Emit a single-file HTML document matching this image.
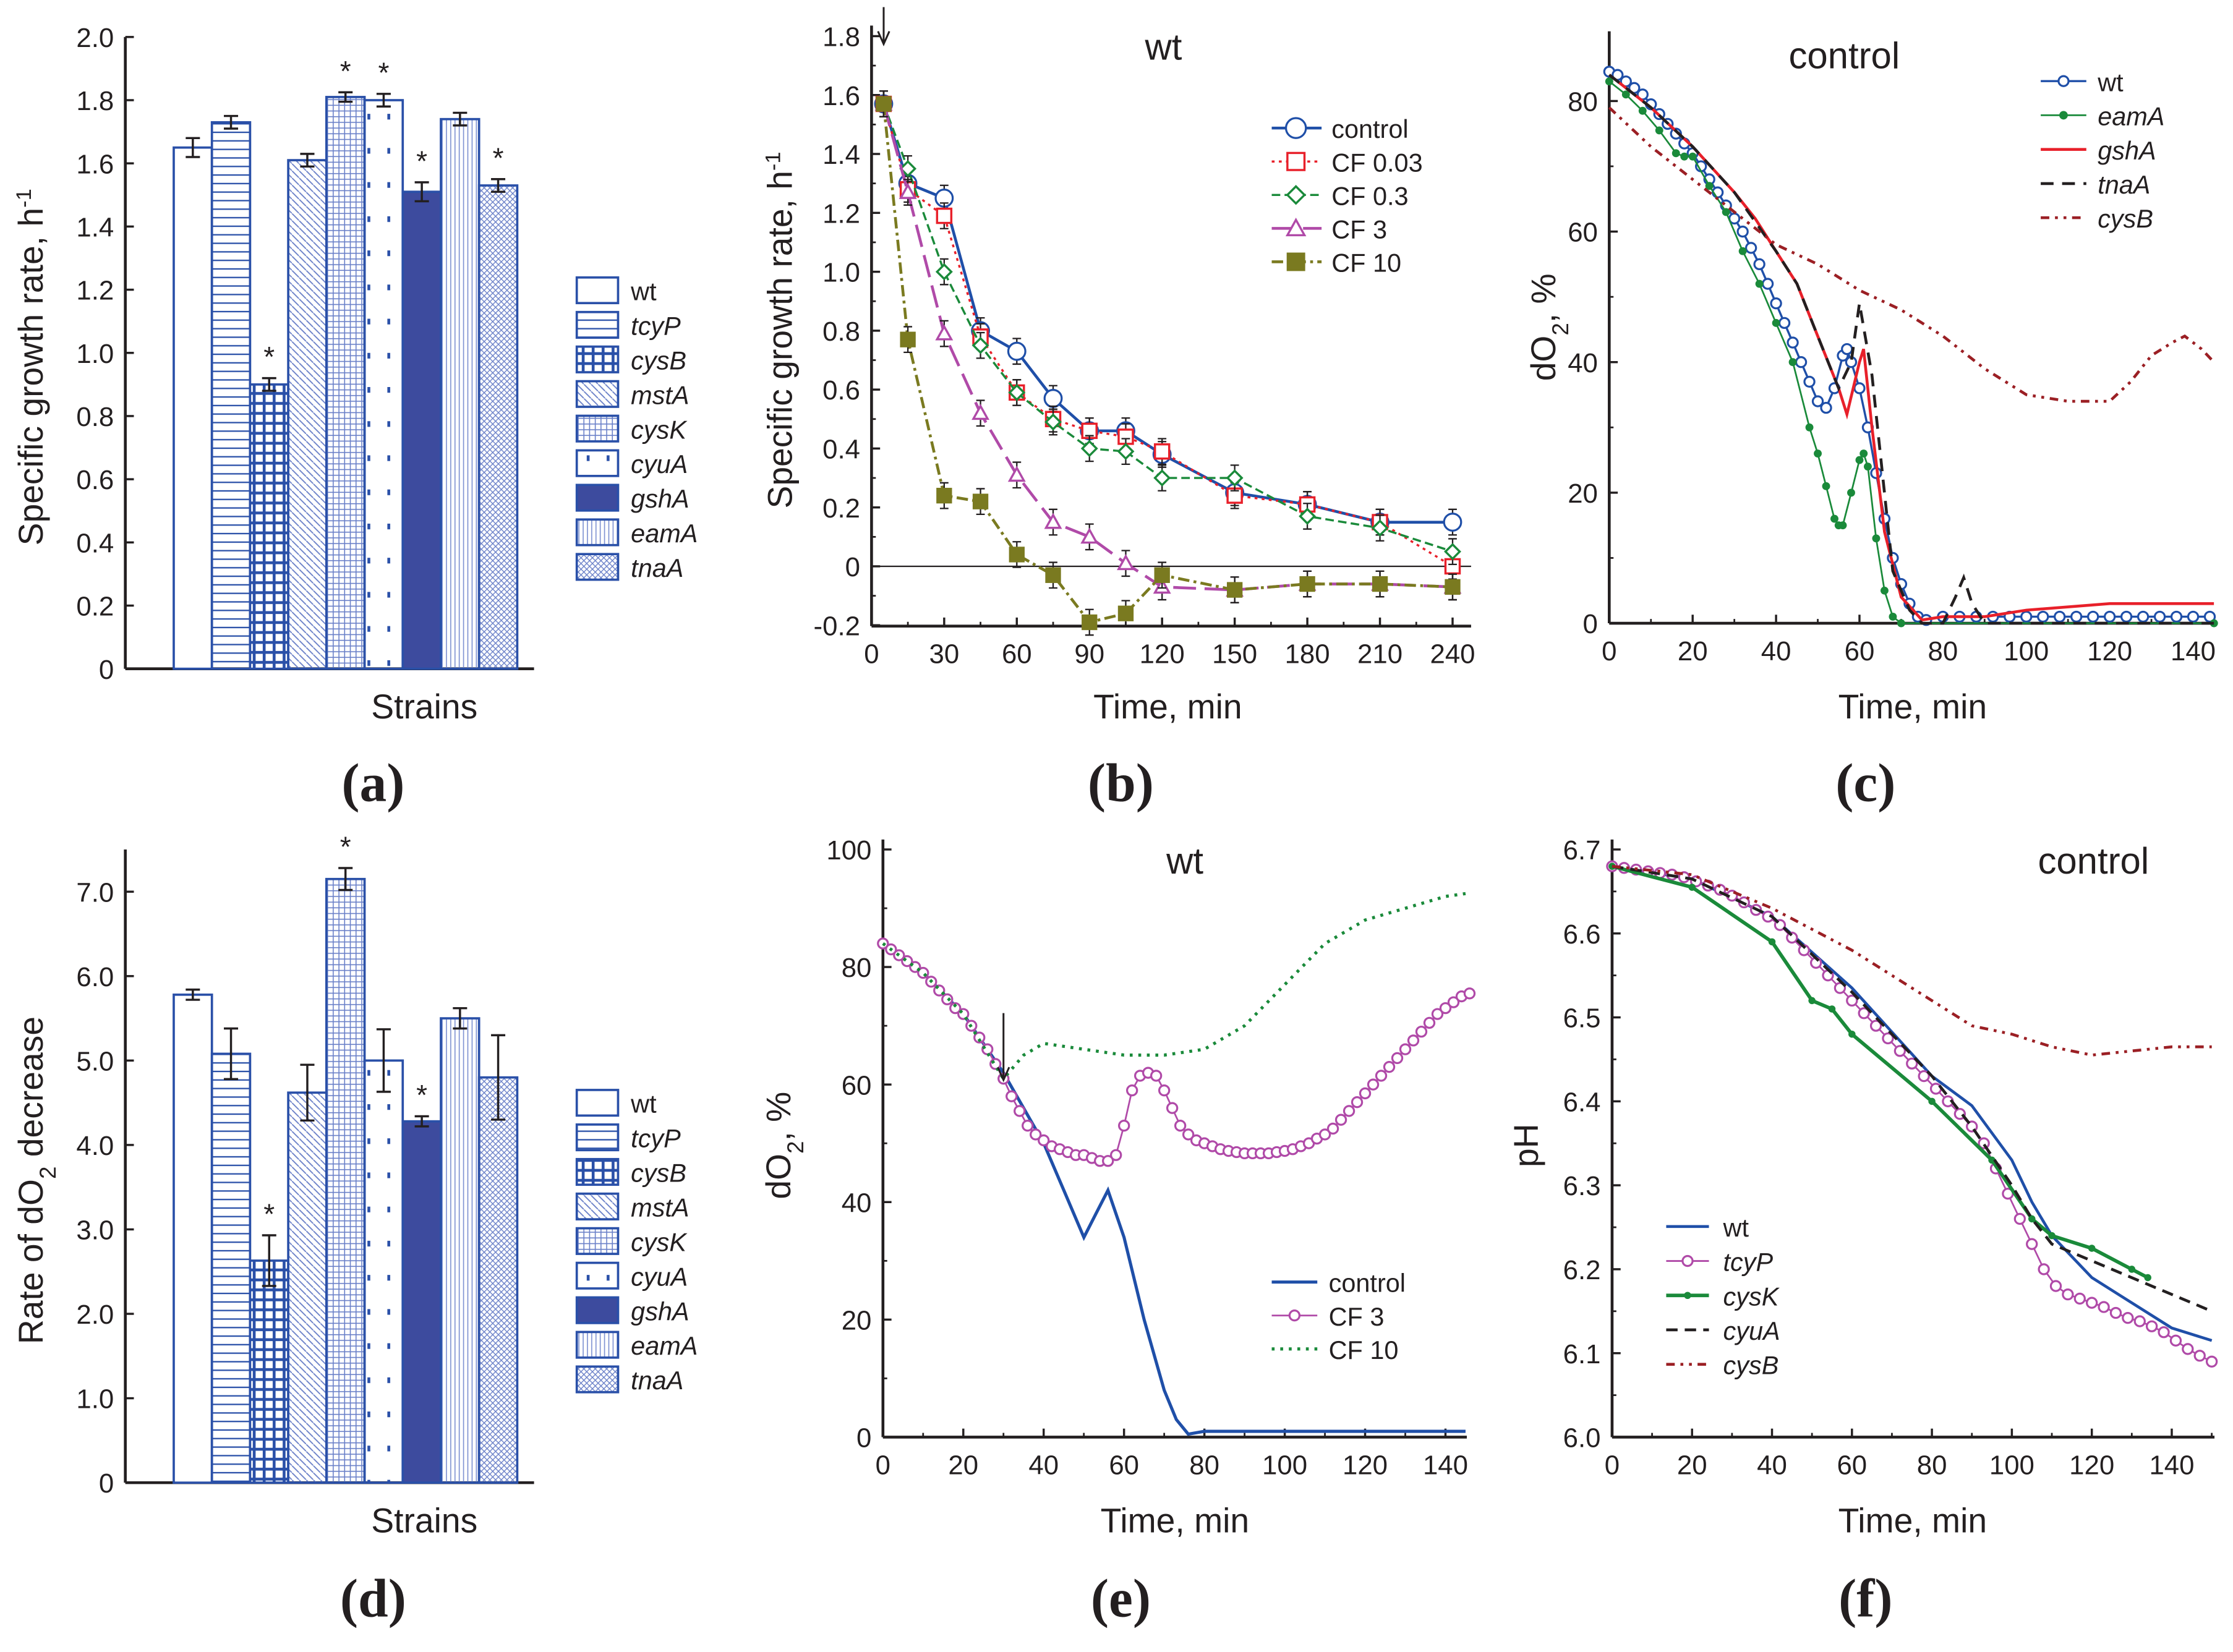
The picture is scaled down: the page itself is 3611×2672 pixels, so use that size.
<!DOCTYPE html>
<html><head><meta charset="utf-8"><style>
html,body{margin:0;padding:0;background:#fff}
svg{display:block}
text{fill:#231f20}
</style></head><body>
<svg id="fig" width="3611" height="2672" viewBox="0 0 1568 1161" preserveAspectRatio="none" xmlns="http://www.w3.org/2000/svg" style="font-family:'Liberation Sans',sans-serif">
<defs>
<pattern id="pH" width="6" height="6" patternUnits="userSpaceOnUse"><line x1="0" y1="3" x2="6" y2="3" stroke="#2a50a8" stroke-width="1"/></pattern>
<pattern id="pGrid" width="7" height="7" patternUnits="userSpaceOnUse"><rect width="7" height="7" fill="#fff"/><line x1="0" y1="3.5" x2="7" y2="3.5" stroke="#2a50a8" stroke-width="2"/><line x1="3.5" y1="0" x2="3.5" y2="7" stroke="#2a50a8" stroke-width="2"/></pattern>
<pattern id="pDiag" width="5" height="5" patternUnits="userSpaceOnUse"><line x1="0" y1="0" x2="5" y2="5" stroke="#6a80c8" stroke-width="0.8"/></pattern>
<pattern id="pFine" width="4" height="4" patternUnits="userSpaceOnUse"><line x1="0" y1="2" x2="4" y2="2" stroke="#6a80c8" stroke-width="0.7"/><line x1="2" y1="0" x2="2" y2="4" stroke="#6a80c8" stroke-width="0.7"/></pattern>
<pattern id="pDots" width="14" height="24" patternUnits="userSpaceOnUse"><rect x="6" y="8" width="2" height="4" fill="#2a50a8"/></pattern>
<pattern id="pV" width="3" height="3" patternUnits="userSpaceOnUse"><line x1="1.5" y1="0" x2="1.5" y2="3" stroke="#7a8ed0" stroke-width="0.7"/></pattern>
<pattern id="pX" width="4" height="4" patternUnits="userSpaceOnUse"><path d="M0 0L4 4M4 0L0 4" stroke="#6a80c8" stroke-width="0.6"/></pattern>
</defs>
</svg>
<script>
// ---------- data ----------
const strains = ["wt","tcyP","cysB","mstA","cysK","cyuA","gshA","eamA","tnaA"];
const fills = ["#fff","url(#pH)","url(#pGrid)","url(#pDiag)","url(#pFine)","url(#pDots)","#3d4b9e","url(#pV)","url(#pX)"];
const growthVals = [1.65,1.73,0.90,1.61,1.81,1.80,1.51,1.74,1.53];
const growthErr = [0.03,0.02,0.02,0.02,0.015,0.02,0.03,0.02,0.02];
const growthStar = [0,0,1,0,1,1,1,0,1];
const rateVals = [5.78,5.08,2.63,4.62,7.15,5.0,4.28,5.5,4.8];
const rateErr = [0.06,0.3,0.3,0.33,0.13,0.37,0.06,0.12,0.5];
const rateStar = [0,0,1,0,1,0,1,0,0];

const bTimes = [5,15,30,45,60,75,90,105,120,150,180,210,240];
const bControl = [1.57,1.30,1.25,0.80,0.73,0.57,0.46,0.46,0.38,0.25,0.21,0.15,0.15];
const bCF003 = [1.57,1.28,1.19,0.78,0.59,0.50,0.46,0.44,0.39,0.24,0.21,0.15,0.0];
const bCF03 = [1.57,1.35,1.0,0.75,0.59,0.49,0.40,0.39,0.30,0.30,0.17,0.13,0.05];
const bCF3 = [1.57,1.27,0.79,0.52,0.31,0.15,0.10,0.01,-0.07,-0.08,-0.06,-0.06,-0.07];
const bCF10 = [1.57,0.77,0.24,0.22,0.04,-0.03,-0.19,-0.16,-0.03,-0.08,-0.06,-0.06,-0.07];

const cWtT = [0,2,4,6,8,10,12,14,16,18,20,22,24,26,28,30,32,34,36,38,40,42,44,46,48,50,52,54,56,57,58,60,62,64,66,68,70,72,74,76,80,84,88,92,96,100,104,108,112,116,120,124,128,132,136,140,144];
const cWtV = [84.5,84,83,82,81,79.5,78,76.5,75,73.5,72,70,68,66,64,62,60,57.5,55,52,49,46,43,40,37,34,33,36,41,42,40,36,30,23,16,10,6,3,1,0.5,1,1,1,1,1,1,1,1,1,1,1,1,1,1,1,1,1];
const cEamT = [0,4,8,12,16,18,20,24,28,32,36,40,44,48,50,52,54,55,56,58,60,61,62,64,66,68,70,145];
const cEamV = [83,81,78.5,75.5,72,71.5,71.5,67,63,57,52,46,40,30,26,21,16,15,15,20,25,26,24,13,5,1,0,0];
const cGshT = [0,10,20,30,35,40,45,50,55,57,60,61,63,66,70,75,80,90,100,120,140,145];
const cGshV = [84,79,73,66,62,57,52,44,36,32,40,42,30,14,4,0.5,1,1,2,3,3,3];
const cTnaT = [0,10,20,30,40,45,50,55,58,60,63,68,72,75,80,83,85,87,90,145];
const cTnaV = [84,79,73,66,57,52,44,36,40,49,38,8,2,0,0,4,7,3,0,0];
const cCysT = [0,10,20,30,40,50,60,70,80,90,100,110,120,125,130,135,138,142,145];
const cCysV = [79,73,68,63,58,55,51,48,44,39,35,34,34,37,41,43,44,42,40];

const eCtlT = [0,10,20,30,40,45,50,53,56,60,65,70,73,76,80,100,120,145];
const eCtlV = [84,79,72,62,50,42,34,38,42,34,20,8,3,0.5,1,1,1,1];
const eCF3T = [0,2,4,6,8,10,12,14,16,18,20,22,24,26,28,30,32,34,36,38,40,42,44,46,48,50,52,54,56,58,60,62,64,66,68,70,72,74,76,78,80,82,84,86,88,90,92,94,96,98,100,102,104,106,108,110,112,114,116,118,120,122,124,126,128,130,132,134,136,138,140,142,144,146];
const eCF3V = [84,83,82,81,80,79,77.5,76,74.5,73,72,70,68,66,63.5,61,58,55.5,53,51.5,50.5,49.5,49,48.5,48,48,47.5,47,47,48,53,59,61.5,62,61.5,59,56,53,51.5,50.5,50,49.5,49,48.7,48.5,48.3,48.3,48.3,48.3,48.5,48.7,49,49.5,50,50.8,51.5,52.5,54,55.5,57,58.5,60,61.5,63,64.5,66,67.5,69,70.5,72,73,74,75,75.5];
const eCF10T = [0,10,20,30,35,40,50,60,70,80,90,100,110,120,130,140,145];
const eCF10V = [84,79,72,61,65,67,66,65,65,66,70,77,84,88,90,92,92.5];

const fWtT = [0,20,40,60,80,90,100,105,110,120,130,140,150];
const fWtV = [6.68,6.665,6.62,6.535,6.43,6.395,6.33,6.28,6.24,6.19,6.16,6.13,6.115];
const fTcyT = [0,3,6,9,12,15,18,21,24,27,30,33,36,39,42,45,48,51,54,57,60,63,66,69,72,75,78,81,84,87,90,93,96,99,102,105,108,111,114,117,120,123,126,129,132,135,138,141,144,147,150];
const fTcyV = [6.68,6.678,6.676,6.674,6.672,6.67,6.667,6.662,6.657,6.652,6.645,6.637,6.628,6.62,6.61,6.595,6.58,6.565,6.55,6.535,6.52,6.505,6.49,6.475,6.46,6.445,6.43,6.415,6.40,6.385,6.37,6.35,6.32,6.29,6.26,6.23,6.20,6.18,6.17,6.165,6.16,6.155,6.148,6.142,6.138,6.132,6.125,6.115,6.105,6.097,6.09];
const fCysKT = [0,20,40,50,55,60,80,95,105,110,120,130,134];
const fCysKV = [6.68,6.655,6.59,6.52,6.51,6.48,6.40,6.33,6.26,6.24,6.225,6.20,6.19];
const fCyuT = [0,20,40,60,80,90,100,105,110,120,130,140,150];
const fCyuV = [6.68,6.665,6.62,6.53,6.43,6.37,6.30,6.26,6.23,6.21,6.19,6.17,6.15];
const fCysBT = [0,20,40,60,80,90,100,110,120,130,140,150];
const fCysBV = [6.68,6.67,6.63,6.58,6.52,6.49,6.48,6.465,6.455,6.46,6.465,6.465];

// ---------- helpers ----------
const NS="http://www.w3.org/2000/svg";
const svg=document.getElementById('fig');
function mk(tag,attrs,parent){const e=document.createElementNS(NS,tag);for(const k in attrs)e.setAttribute(k,attrs[k]);(parent||svg).appendChild(e);return e;}
function txt(s,x,y,size,extra,parent){const t=mk('text',Object.assign({x:x,y:y,'font-size':size,'text-anchor':'middle'},extra||{}),parent);t.textContent=s;return t;}
function lin(d0,d1,r0,r1){return v=>r0+(v-d0)*(r1-r0)/(d1-d0);}

function axes(g,x0,x1,yTop,yBot,xs,ys,xticks,yticks,xminor,yminor,ylabFmt){
  let a=mk('path',{d:`M${x0} ${yTop}V${yBot}`,stroke:'#231f20','stroke-width':2,fill:'none'},g);
  
  a=mk('path',{d:`M${x0} ${yBot}H${x1}`,stroke:'#231f20','stroke-width':2,fill:'none'},g);
  
  if(xticks)xticks.forEach(v=>{const x=xs(v);mk('line',{x1:x,x2:x,y1:yBot,y2:yBot-6,stroke:'#231f20','stroke-width':1.5},g);
    const t=txt(String(v),x,yBot+26,19,{},g);});
  if(xminor)xminor.forEach(v=>{const x=xs(v);mk('line',{x1:x,x2:x,y1:yBot,y2:yBot-3,stroke:'#231f20','stroke-width':1.2},g);});
  yticks.forEach(v=>{const y=ys(v);mk('line',{x1:x0,x2:x0+6,y1:y,y2:y,stroke:'#231f20','stroke-width':1.5},g);
    const t=txt(ylabFmt?ylabFmt(v):String(v),x0-8,y+7,19,{'text-anchor':'end'},g);});
  if(yminor)yminor.forEach(v=>{const y=ys(v);mk('line',{x1:x0,x2:x0+3,y1:y,y2:y,stroke:'#231f20','stroke-width':1.2},g);});
}
function path(g,xs,ys,T,V,style){const d=T.map((t,i)=>(i?'L':'M')+xs(t).toFixed(1)+' '+ys(V[i]).toFixed(1)).join('');return mk('path',Object.assign({d:d,fill:'none'},style),g);}
function marker(g,type,x,y,col,s){
  s=s||7;
  if(type==='circle')return mk('circle',{cx:x,cy:y,r:s,fill:'#fff',stroke:col,'stroke-width':1.4},g);
  if(type==='dot')return mk('circle',{cx:x,cy:y,r:s,fill:col},g);
  if(type==='square')return mk('rect',{x:x-s,y:y-s,width:2*s,height:2*s,fill:'#fff',stroke:col,'stroke-width':1.5},g);
  if(type==='fsquare')return mk('rect',{x:x-s,y:y-s,width:2*s,height:2*s,fill:col,stroke:col},g);
  if(type==='diamond')return mk('path',{d:`M${x} ${y-s}L${x+s} ${y}L${x} ${y+s}L${x-s} ${y}Z`,fill:'#fff',stroke:col,'stroke-width':1.5},g);
  if(type==='tri')return mk('path',{d:`M${x} ${y-s}L${x+s} ${y+s*0.8}L${x-s} ${y+s*0.8}Z`,fill:'#fff',stroke:col,'stroke-width':1.5},g);
}
function group(name){const g=mk('g',{});return g;}
function panelLabel(s,x,y){const t=txt(s,x,y,38,{style:"font-family:'Liberation Serif',serif;font-weight:bold"});}
function ylabel(g,s,x,y){const t=mk('text',{x:0,y:0,'font-size':24,'text-anchor':'middle',transform:`translate(${x},${y}) rotate(-90)`},g);t.innerHTML=s;}
function xlabel(g,s,x,y){const t=txt(s,x,y,24,{},g);}

// ---------- bar panels ----------
function barPanel(name,vals,errs,stars,yBot,yTop,vmax,yticks,fmt,legY0,ttl,titleY,lab){
  const g=group(name);
  const ys=lin(0,vmax,yBot,yTop);
  axes(g,88,375,yTop,yBot,null,ys,null,yticks,null,null,fmt);
  vals.forEach((v,i)=>{const x=122+i*26.8;
    const r=mk('rect',{x:x,y:ys(v),width:26.8,height:yBot-ys(v),fill:fills[i],stroke:'#2a50a8','stroke-width':1.6},g);
    
    const cx=x+13.4,e1=ys(v+errs[i]),e2=ys(v-errs[i]);
    const eb=mk('path',{d:`M${cx} ${e1}V${e2}M${cx-5} ${e1}H${cx+5}M${cx-5} ${e2}H${cx+5}`,stroke:'#231f20','stroke-width':1.5},g);
    
    if(stars[i]){const s=txt('*',cx,e1-8,20,{},g);}
  });
  strains.forEach((s,i)=>{const y=legY0+i*24.3;
    const r=mk('rect',{x:405,y:y-9,width:29,height:18,fill:fills[i],stroke:'#2a50a8','stroke-width':1.6},g);
    
    const t=txt(s,443,y+7,18,{'text-anchor':'start','font-style':i?'italic':'normal'},g);});
  xlabel(g,'Strains',298,titleY);
  ylabel(g,ttl,30,(yTop+yBot)/2+10);
  panelLabel(lab,262,lab==='(a)'?563:1136);
}
barPanel('panel-a',growthVals,growthErr,growthStar,470,26,2.0,[0,0.2,0.4,0.6,0.8,1,1.2,1.4,1.6,1.8,2],v=>v===0?'0':v.toFixed(1),204,'Specific growth rate, h<tspan baseline-shift="super" font-size="15">-1</tspan>',505,'(a)');
barPanel('panel-d',rateVals,rateErr,rateStar,1042,597,7.5,[0,1,2,3,4,5,6,7],v=>v===0?'0':v.toFixed(1),775,'Rate of dO<tspan baseline-shift="sub" font-size="16">2</tspan> decrease',1077,'(d)');

// ---------- panel b ----------
(function(){
  const g=group('panel-b');
  const xs=lin(0,240,612,1020), ys=lin(0,0.2,398,356.6);
  axes(g,612,1033,18,440,xs,ys,[0,30,60,90,120,150,180,210,240],[-0.2,0,0.2,0.4,0.6,0.8,1,1.2,1.4,1.6,1.8],[15,45,75,105,135,165,195,225],[-0.1,0.1,0.3,0.5,0.7,0.9,1.1,1.3,1.5,1.7],v=>v===0?'0':v.toFixed(1));
  mk('line',{x1:612,x2:1033,y1:ys(0),y2:ys(0),stroke:'#231f20','stroke-width':1},g);
  const S=[['control',bControl,'#1f4fa8','circle','none',2],['CF 0.03',bCF003,'#e8202a','square','2 3',1.5],['CF 0.3',bCF03,'#1a8a3a','diamond','6 3',1.5],['CF 3',bCF3,'#b04aa8','tri','16 6',2],['CF 10',bCF10,'#7a7a20','fsquare','8 3 2 3',2]];
  S.forEach((s,k)=>{const p=path(g,xs,ys,bTimes,s[1],{stroke:s[2],'stroke-width':s[5],'stroke-dasharray':s[4]});
    
    s[1].forEach((v,i)=>{const x=xs(bTimes[i]),y=ys(v);
      mk('path',{d:`M${x} ${y-9}V${y+9}M${x-3} ${y-9}H${x+3}M${x-3} ${y+9}H${x+3}`,stroke:'#231f20','stroke-width':1},g);
      const m=marker(g,s[3],x,y,s[2],k===0?6:5);});
    const ly=90+k*23.5;
    mk('line',{x1:893,x2:928,y1:ly,y2:ly,stroke:s[2],'stroke-width':s[5],'stroke-dasharray':s[4]},g);
    const lm=marker(g,s[3],910,ly,s[2],k===0?7:6);
    const t=txt(s[0],935,ly+7,18,{'text-anchor':'start'},g);});
  const ar=mk('path',{d:`M${xs(5)} 5V30M${xs(5)-4} 22L${xs(5)} 31L${xs(5)+4} 22`,stroke:'#231f20','stroke-width':1.3,fill:'none'},g);
  
  const tt=txt('wt',817,42,26,{},g);
  xlabel(g,'Time, min',820,505);
  ylabel(g,'Specific growth rate, h<tspan baseline-shift="super" font-size="15">-1</tspan>',556,232);
  panelLabel('(b)',787,563);
})();

// ---------- panel c ----------
(function(){
  const g=group('panel-c');
  const xs=lin(0,140,1130,1540), ys=lin(0,80,438,71);
  axes(g,1130,1555,22,438,xs,ys,[0,20,40,60,80,100,120,140],[0,20,40,60,80],[10,30,50,70,90,110,130],[10,30,50,70]);
  const S=[['wt',cWtT,cWtV,'#1f4fa8','circle','none',1.5],['eamA',cEamT,cEamV,'#1a8a3a','dot','none',1.2],['gshA',cGshT,cGshV,'#e8202a',null,'none',2],['tnaA',cTnaT,cTnaV,'#231f20',null,'9 6',2],['cysB',cCysT,cCysV,'#9b1f24',null,'6 4 2 4 2 4',2]];
  S.forEach((s,k)=>{const p=path(g,xs,ys,s[1],s[2],{stroke:s[3],'stroke-width':s[6],'stroke-dasharray':s[5]});
    
    if(s[4])s[2].forEach((v,i)=>{const m=marker(g,s[4],xs(s[1][i]),ys(v),s[3],s[4]==='dot'?2.8:3.5);});
    const ly=57+k*24;
    mk('line',{x1:1433,x2:1465,y1:ly,y2:ly,stroke:s[3],'stroke-width':s[6],'stroke-dasharray':s[5]},g);
    if(s[4]){const lm=marker(g,s[4],1449,ly,s[3],s[4]==='dot'?3:3.5);}
    const t=txt(s[0],1473,ly+7,18,{'text-anchor':'start','font-style':k?'italic':'normal'},g);});
  const tt=txt('control',1295,48,26,{},g);
  xlabel(g,'Time, min',1343,505);
  ylabel(g,'dO<tspan baseline-shift="sub" font-size="16">2</tspan>, %',1092,230);
  panelLabel('(c)',1310,563);
})();

// ---------- panel e ----------
(function(){
  const g=group('panel-e');
  const xs=lin(0,140,620,1015), ys=lin(0,100,1010,597);
  axes(g,620,1030,590,1010,xs,ys,[0,20,40,60,80,100,120,140],[0,20,40,60,80,100],[10,30,50,70,90,110,130],[10,30,50,70,90]);
  const S=[['control',eCtlT,eCtlV,'#1f4fa8',null,'none',2.2],['CF 3',eCF3T,eCF3V,'#b04aa8','circle','none',1.2],['CF 10',eCF10T,eCF10V,'#1a8a3a',null,'2 4',2.2]];
  S.forEach((s,k)=>{const p=path(g,xs,ys,s[1],s[2],{stroke:s[3],'stroke-width':s[6],'stroke-dasharray':s[5]});
    
    if(s[4])s[2].forEach((v,i)=>{const m=marker(g,s[4],xs(s[1][i]),ys(v),s[3],3.5);});
    const ly=901+k*23.5;
    mk('line',{x1:893,x2:925,y1:ly,y2:ly,stroke:s[3],'stroke-width':s[6],'stroke-dasharray':s[5]},g);
    if(s[4]){const lm=marker(g,s[4],909,ly,s[3],3.5);}
    const t=txt(s[0],933,ly+7,18,{'text-anchor':'start'},g);});
  const ax=xs(30);
  const ar=mk('path',{d:`M${ax} 712V758M${ax-4} 750L${ax} 759L${ax+4} 750`,stroke:'#231f20','stroke-width':1.3,fill:'none'},g);
  
  const tt=txt('wt',832,614,26,{},g);
  xlabel(g,'Time, min',825,1077);
  ylabel(g,'dO<tspan baseline-shift="sub" font-size="16">2</tspan>, %',555,805);
  panelLabel('(e)',787,1136);
})();

// ---------- panel f ----------
(function(){
  const g=group('panel-f');
  const xs=lin(0,140,1132,1525), ys=lin(6.0,6.7,1010,597);
  axes(g,1132,1555,590,1010,xs,ys,[0,20,40,60,80,100,120,140],[6.0,6.1,6.2,6.3,6.4,6.5,6.6,6.7],[10,30,50,70,90,110,130,150],[6.05,6.15,6.25,6.35,6.45,6.55,6.65],v=>v.toFixed(1));
  const S=[['wt',fWtT,fWtV,'#1f4fa8',null,'none',2],['tcyP',fTcyT,fTcyV,'#b04aa8','circle','none',1.2],['cysK',fCysKT,fCysKV,'#1a8a3a','dot','none',2.5],['cyuA',fCyuT,fCyuV,'#231f20',null,'8 5',2],['cysB',fCysBT,fCysBV,'#9b1f24',null,'6 4 2 4 2 4',2]];
  S.forEach((s,k)=>{const p=path(g,xs,ys,s[1],s[2],{stroke:s[3],'stroke-width':s[6],'stroke-dasharray':s[5]});
    
    if(s[4])s[2].forEach((v,i)=>{const m=marker(g,s[4],xs(s[1][i]),ys(v),s[3],s[4]==='dot'?2.5:3.5);});
    const ly=862+k*24.2;
    mk('line',{x1:1170,x2:1200,y1:ly,y2:ly,stroke:s[3],'stroke-width':s[6],'stroke-dasharray':s[5]},g);
    if(s[4]){const lm=marker(g,s[4],1185,ly,s[3],s[4]==='dot'?2.5:3.5);}
    const t=txt(s[0],1210,ly+7,18,{'text-anchor':'start','font-style':k?'italic':'normal'},g);});
  const tt=txt('control',1470,614,26,{},g);
  xlabel(g,'Time, min',1343,1077);
  ylabel(g,'pH',1080,805);
  panelLabel('(f)',1310,1136);
})();
</script>
</body></html>
